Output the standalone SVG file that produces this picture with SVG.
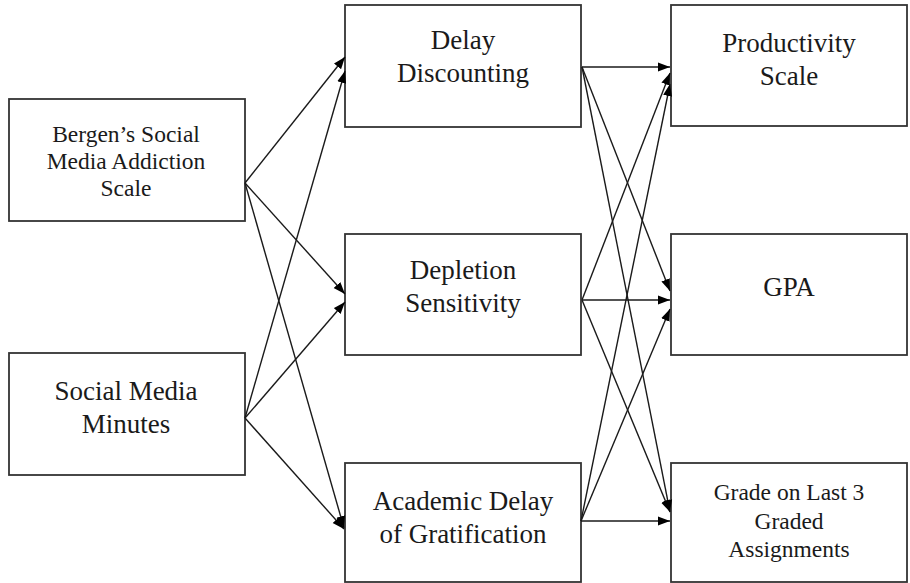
<svg xmlns="http://www.w3.org/2000/svg" width="910" height="583" viewBox="0 0 910 583">
  <style>
    .box { fill: #ffffff; stroke: #333333; stroke-width: 1.8; }
    .lbl { font-family: "Liberation Serif", "Times New Roman", serif; fill: #1a1a1a; text-anchor: middle; }
    .big { font-size: 27px; }
    .small { font-size: 23.5px; }
    .edge { stroke: #1a1a1a; stroke-width: 1.4; fill: none; marker-end: url(#arrow); }
  </style>
  <defs>
    <marker id="arrow" markerUnits="userSpaceOnUse" markerWidth="13" markerHeight="10" refX="12" refY="5" orient="auto">
      <path d="M0,0.5 L12,5 L0,9.5 Z" fill="#000000"/>
    </marker>
  </defs>
  <rect width="910" height="583" fill="#ffffff"/>

  <!-- predictors -->
  <g id="bergen">
    <rect class="box" x="9" y="99" width="236" height="122"/>
    <text class="lbl small" x="126" y="142">Bergen’s Social</text>
    <text class="lbl small" x="126" y="169">Media Addiction</text>
    <text class="lbl small" x="126" y="196">Scale</text>
  </g>
  <g id="sm-minutes">
    <rect class="box" x="9" y="353" width="236" height="122"/>
    <text class="lbl big" x="126" y="400">Social Media</text>
    <text class="lbl big" x="126" y="433">Minutes</text>
  </g>

  <!-- mediators -->
  <g id="delay-discounting">
    <rect class="box" x="345" y="5" width="236" height="122"/>
    <text class="lbl big" x="463" y="49">Delay</text>
    <text class="lbl big" x="463" y="82">Discounting</text>
  </g>
  <g id="depletion-sensitivity">
    <rect class="box" x="345" y="234" width="236" height="121"/>
    <text class="lbl big" x="463" y="279">Depletion</text>
    <text class="lbl big" x="463" y="312">Sensitivity</text>
  </g>
  <g id="academic-delay">
    <rect class="box" x="345" y="463" width="236" height="119"/>
    <text class="lbl big" x="463" y="510">Academic Delay</text>
    <text class="lbl big" x="463" y="543">of Gratification</text>
  </g>

  <!-- outcomes -->
  <g id="productivity">
    <rect class="box" x="671" y="5" width="236" height="121"/>
    <text class="lbl big" x="789" y="52">Productivity</text>
    <text class="lbl big" x="789" y="85">Scale</text>
  </g>
  <g id="gpa">
    <rect class="box" x="671" y="234" width="236" height="121"/>
    <text class="lbl big" x="789" y="296">GPA</text>
  </g>
  <g id="grade">
    <rect class="box" x="671" y="463" width="236" height="119"/>
    <text class="lbl small" x="789" y="500">Grade on Last 3</text>
    <text class="lbl small" x="789" y="529">Graded</text>
    <text class="lbl small" x="789" y="557">Assignments</text>
  </g>

  <g id="connectors">
    <!-- Bergen's scale to mediators -->
    <line class="edge" x1="245" y1="183" x2="345" y2="57"/>
    <line class="edge" x1="245" y1="183" x2="345" y2="294"/>
    <line class="edge" x1="245" y1="183" x2="344" y2="528"/>
    <!-- social media minutes to mediators -->
    <line class="edge" x1="245" y1="418" x2="345" y2="71"/>
    <line class="edge" x1="245" y1="418" x2="345" y2="302"/>
    <line class="edge" x1="245" y1="418" x2="344" y2="529"/>
    <!-- delay discounting to outcomes -->
    <line class="edge" x1="582" y1="67" x2="670" y2="67"/>
    <line class="edge" x1="582" y1="67" x2="670" y2="291"/>
    <line class="edge" x1="582" y1="67" x2="670" y2="512"/>
    <!-- depletion sensitivity to outcomes -->
    <line class="edge" x1="582" y1="300" x2="670" y2="73"/>
    <line class="edge" x1="582" y1="300" x2="670" y2="300"/>
    <line class="edge" x1="582" y1="300" x2="670" y2="512"/>
    <!-- academic delay of gratification to outcomes -->
    <line class="edge" x1="581" y1="521" x2="670" y2="84"/>
    <line class="edge" x1="581" y1="521" x2="670" y2="309"/>
    <line class="edge" x1="581" y1="521" x2="670" y2="521"/>
  </g>
</svg>
